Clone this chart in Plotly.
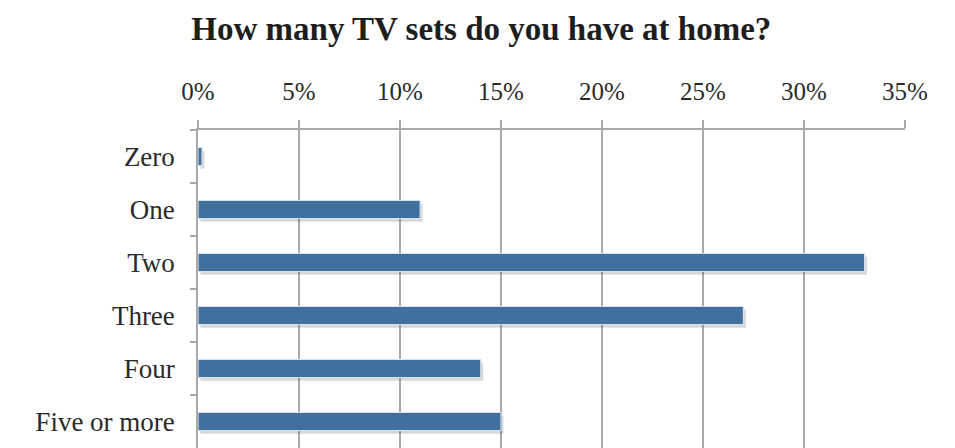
import plotly.graph_objects as go

# Survey answers: number of TV sets at home (share of respondents, %)
categories = ["Zero", "One", "Two", "Three", "Four", "Five or more"]
shares = [0.2, 11, 33, 27, 14, 15]
tick_values = [0, 5, 10, 15, 20, 25, 30, 35]
tick_labels = [f"{v}%" for v in tick_values]

BAR_COLOR = "#41709f"
BAR_EDGE = "#d4e2f0"
SHADOW = "rgba(60,60,60,0.20)"
GRID = "#a9a9a9"
TEXT = "#2a2a2a"
FONT = "Liberation Serif"
BAR_WIDTH = 0.34

fig = go.Figure()

# soft drop shadow sitting slightly below/right of each bar
fig.add_trace(go.Bar(
    y=categories, x=shares, orientation="h",
    base=0.12, width=BAR_WIDTH, offset=-BAR_WIDTH / 2 + 0.06,
    marker=dict(color=SHADOW, line=dict(width=0)),
    hoverinfo="skip", showlegend=False,
))

# main bars
fig.add_trace(go.Bar(
    y=categories, x=shares, orientation="h",
    width=BAR_WIDTH,
    marker=dict(color=BAR_COLOR, line=dict(color=BAR_EDGE, width=1.2)),
    showlegend=False,
))

fig.update_layout(
    width=955, height=448,
    margin=dict(l=198, r=50, t=130, b=0),
    paper_bgcolor="white", plot_bgcolor="white",
    barmode="overlay",
    font=dict(family=FONT, color=TEXT),
    title=dict(
        text="<b>How many TV sets do you have at home?</b>",
        x=0.504, xanchor="center", xref="container",
        y=1 - 28 / 448, yanchor="middle", yref="container",
        font=dict(family=FONT, size=33, color="#1e1e1e"),
    ),
    xaxis=dict(
        side="top", range=[0, 35],
        tickvals=tick_values, ticktext=tick_labels,
        tickfont=dict(family=FONT, size=25, color=TEXT),
        ticklabelstandoff=10,
        showgrid=True, gridcolor=GRID, gridwidth=1.5,
        showline=True, linecolor=GRID, linewidth=1.5,
        ticks="outside", ticklen=8, tickcolor=GRID, tickwidth=1.5,
        zeroline=False,
    ),
    yaxis=dict(
        range=[5.5, -0.5], type="category",
        tickfont=dict(family=FONT, size=27, color=TEXT),
        ticklabelstandoff=16,
        showgrid=False,
        showline=True, linecolor=GRID, linewidth=1.5,
        ticks="outside", ticklen=6, tickcolor=GRID, tickwidth=1.5,
        tickson="boundaries",
        zeroline=False,
    ),
)

fig.write_html("out.html")
